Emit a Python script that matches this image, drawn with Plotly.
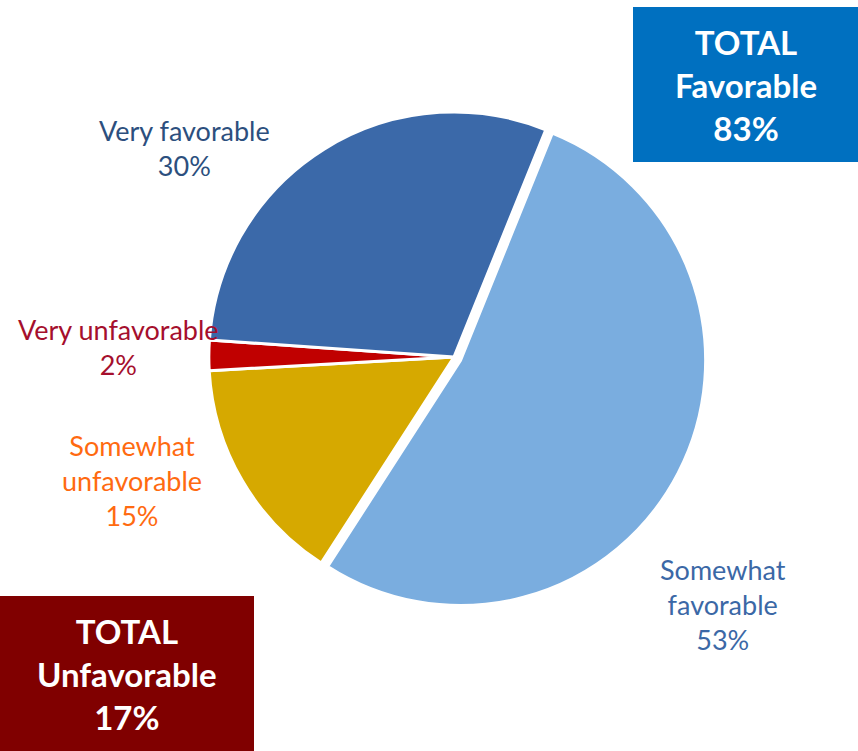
import plotly.graph_objects as go

# Data
categories = ["Somewhat favorable", "Somewhat unfavorable", "Very unfavorable", "Very favorable"]
values = [53, 15, 2, 30]
label_lines = [["Somewhat", "favorable"], ["Somewhat", "unfavorable"], ["Very unfavorable"], ["Very favorable"]]
total_labels = ["TOTAL<br>Favorable<br>83%", "TOTAL<br>Unfavorable<br>17%"]

slice_colors = ["#7aaddf", "#d6a900", "#c00000", "#3b69a9"]
text_colors = ["#3b68a6", "#ff6a10", "#a50f2d", "#2c4f7e"]
pulls = [0.03, 0, 0, 0]

W, H = 858, 751
FONT = "Lato, Open Sans, sans-serif"

fig = go.Figure()
fig.add_trace(go.Pie(
    labels=categories,
    values=values,
    sort=False,
    direction="clockwise",
    rotation=22,
    pull=pulls,
    marker=dict(colors=slice_colors, line=dict(color="white", width=3)),
    textinfo="none",
    hoverinfo="label+percent",
    showlegend=False,
    domain=dict(x=[0.2348, 0.8234], y=[0.1884, 0.8608]),
))

# label positions (pixel centers of label blocks) -- layout only
label_pos = [(723, 604), (132, 480), (118, 347), (184, 148)]
for cat, lines, val, col, (px, py) in zip(categories, label_lines, values, text_colors, label_pos):
    txt = "<br>".join(lines + [f"{val}%"])
    fig.add_annotation(
        x=px / W, y=1 - py / H, xref="paper", yref="paper",
        text=txt, showarrow=False, align="center",
        xanchor="center", yanchor="middle",
        font=dict(family=FONT, size=27, color=col),
    )

# Total boxes
boxes = [
    dict(x0=633, x1=858, y0=7, y1=162, color="#0070c0"),
    dict(x0=0, x1=254, y0=596, y1=751, color="#800000"),
]
for b, t in zip(boxes, total_labels):
    fig.add_shape(type="rect", xref="paper", yref="paper",
                  x0=b["x0"] / W, x1=b["x1"] / W, y0=1 - b["y1"] / H, y1=1 - b["y0"] / H,
                  fillcolor=b["color"], line=dict(width=0), layer="above")
    fig.add_annotation(
        x=(b["x0"] + b["x1"]) / 2 / W, y=1 - (b["y0"] + b["y1"]) / 2 / H,
        xref="paper", yref="paper", text=f"<b>{t}</b>", showarrow=False,
        align="center", xanchor="center", yanchor="middle",
        font=dict(family=FONT, size=33, color="white"),
    )

fig.update_layout(
    width=W, height=H,
    margin=dict(l=0, r=0, t=0, b=0),
    paper_bgcolor="white", plot_bgcolor="white",
)

fig.write_html("out.html", config={"displayModeBar": False},
               post_script="document.body.style.margin='0';document.body.style.overflow='hidden';")
